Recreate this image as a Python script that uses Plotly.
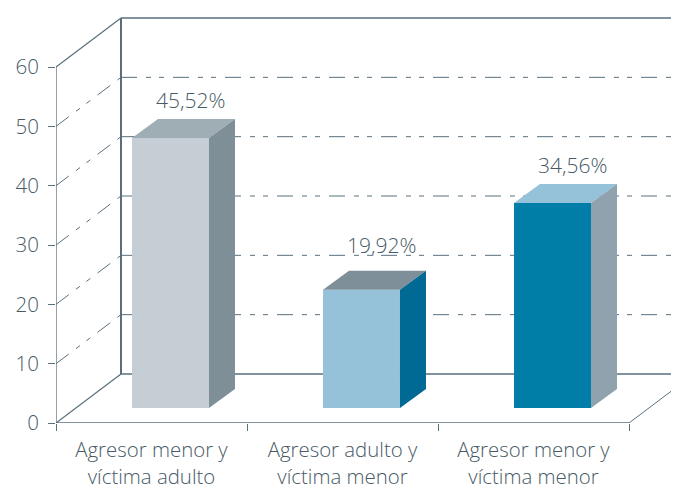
import plotly.graph_objects as go

categories = ["Agresor menor y<br>víctima adulto", "Agresor adulto y<br>víctima menor", "Agresor menor y<br>víctima menor"]
values = [45.52, 19.92, 34.56]
y_ticks = [0, 10, 20, 30, 40, 50, 60]
front_colors = ["#c5ced5", "#95c1d9", "#007ea8"]
top_colors = ["#9fadb5", "#7f8f99", "#95c1d9"]
side_colors = ["#7f8f97", "#006a94", "#90a2ae"]

# the page has an 8px body margin, so the figure is 8px smaller than the window
W, H = 671, 482
ML, MB = 48, 67
PX_X = 191.0          # px per category
PX_Y = 5.933          # px per value unit
x_max = (W - ML) / PX_X
y_max = (H - MB) / PX_Y

LINE = "#5a6f7c"
TEXT = "#485a65"
FONT = "Open Sans"
DASH = "16px,9px,5px,8px,5px,9px"

# depth of the box and of each bar, in axis units
BACK_X, BACK_Y = 65 / PX_X, 49 / PX_Y
BAR_DX, BAR_DY = 26 / PX_X, 19 / PX_Y
BASE = 15 / PX_Y
BAR_L, BAR_R = 0.398, 0.801
N = len(categories)

fig = go.Figure()

def seg(x0, y0, x1, y1, color=LINE, width=1.5, dash=None):
    fig.add_shape(type="line", x0=x0, y0=y0, x1=x1, y1=y1, xref="x", yref="y",
                  layer="below", line=dict(color=color, width=width, dash=dash))

# walls and grid
for t in y_ticks[1:-1]:
    seg(0, t, BACK_X, t + BACK_Y, width=1, dash=DASH)
    seg(BACK_X, t + BACK_Y, x_max, t + BACK_Y, width=1, dash=DASH)
top = y_ticks[-1]
seg(BACK_X, top + BACK_Y, x_max, top + BACK_Y, width=1.5)
seg(0, top, BACK_X, top + BACK_Y, width=1.2)
seg(0, 0, 0, top, width=1.3)
seg(BACK_X, BACK_Y, BACK_X, top + BACK_Y, width=2)
seg(0, 0, N, 0, width=1.5)
seg(0, 0, BACK_X, BACK_Y, width=1.2)
seg(BACK_X, BACK_Y, x_max, BACK_Y, width=1.5)
seg(N, 0, N + BACK_X, BACK_Y, width=1)

# front faces
centers = [i + (BAR_L + BAR_R) / 2 for i in range(N)]
fig.add_trace(go.Bar(x=centers, y=values, base=BASE, width=BAR_R - BAR_L,
                     marker=dict(color=front_colors, line=dict(width=0)),
                     hoverinfo="skip", showlegend=False))

# top and side faces
for i, v in enumerate(values):
    L, R, B, T = i + BAR_L, i + BAR_R, BASE, BASE + v
    fig.add_trace(go.Scatter(
        x=[L, R, R + BAR_DX, L + BAR_DX, L], y=[T, T, T + BAR_DY, T + BAR_DY, T],
        mode="lines", fill="toself", fillcolor=top_colors[i], line=dict(width=0),
        hoverinfo="skip", showlegend=False))
    fig.add_trace(go.Scatter(
        x=[R, R + BAR_DX, R + BAR_DX, R, R], y=[B, B + BAR_DY, T + BAR_DY, T, B],
        mode="lines", fill="toself", fillcolor=side_colors[i], line=dict(width=0),
        hoverinfo="skip", showlegend=False))

# value labels
label_shift = [19, 26, 19]
for i, v in enumerate(values):
    fig.add_annotation(x=i + BAR_R - 0.095, y=BASE + v + BAR_DY, xref="x", yref="y",
                       text=f"{v:.2f}".replace(".", ",") + "%", showarrow=False,
                       yshift=label_shift[i], yanchor="middle",
                       font=dict(family=FONT, size=21, weight=300, color=TEXT))

fig.update_layout(
    width=W, height=H, margin=dict(l=ML, r=0, t=0, b=MB, pad=0),
    paper_bgcolor="white", plot_bgcolor="white", showlegend=False,
    xaxis=dict(range=[0, x_max], tickmode="array",
               tickvals=[i + 0.5 for i in range(N)], ticktext=categories,
               ticks="", showgrid=False, zeroline=False, showline=False,
               tickfont=dict(family=FONT, size=20.4, weight=300, color=TEXT), ticklabelstandoff=13,
               minor=dict(tickmode="array", tickvals=list(range(N + 1)), ticks="outside",
                          ticklen=7, tickwidth=1, tickcolor=LINE, showgrid=False)),
    yaxis=dict(range=[0, y_max], tickmode="array", tickvals=y_ticks,
               ticks="outside", ticklen=7, tickwidth=1, tickcolor=LINE,
               showgrid=False, zeroline=False, showline=False,
               tickfont=dict(family=FONT, size=20.5, weight=300, color=TEXT), ticklabelstandoff=5),
)
fig.write_html("out.html")
